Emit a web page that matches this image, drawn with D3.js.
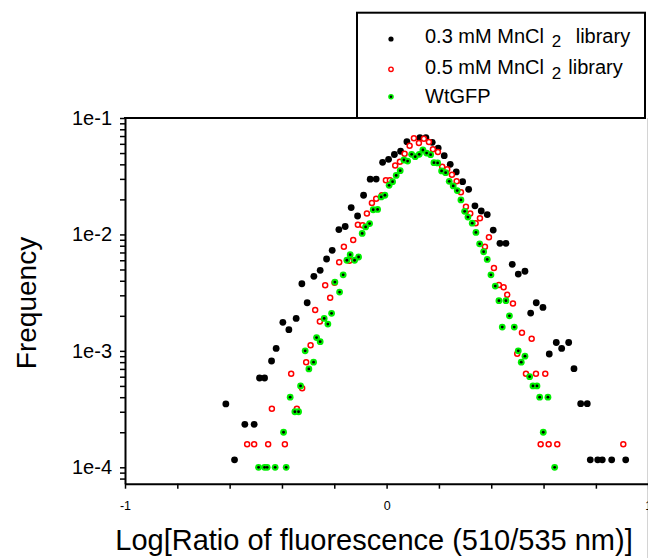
<!DOCTYPE html>
<html lang="en">
<head>
<meta charset="UTF-8">
<title>Frequency of fluorescence ratio</title>
<script src="https://d3js.org/d3.v7.min.js"></script>
<style>
  body { margin: 0; background: #fff; }
  svg text { font-family: "Liberation Sans", Arial, sans-serif; fill: #000; }
</style>
</head>
<body>
<div id="chart"></div>
<script>
// tick values
const xTicks = [-1, -0.8, -0.6, -0.4, -0.2, 0, 0.2, 0.4, 0.6, 0.8, 1];
const xTickLabels = ["-1", "", "", "", "", "0", "", "", "", "", "1"];
const yMajorTicks = [1e-4, 1e-3, 1e-2, 1e-1];
const yTickLabels = ["1e-4", "1e-3", "1e-2", "1e-1"];

// 0.3 mM MnCl2 library
const mn03X = [-0.6145, -0.5813, -0.5419, -0.5063, -0.4857, -0.4665, -0.4398, -0.4222, -0.3966, -0.3736,
  -0.3457, -0.3239, -0.3036, -0.278, -0.2539, -0.2294, -0.208, -0.1824, -0.1583, -0.1354,
  -0.1109, -0.088, -0.0627, -0.0398, -0.0153, 0.0076, 0.0298, 0.0535, 0.0776, 0.1273,
  0.1503, 0.1744, 0.1973, 0.2203, 0.2432, 0.2662, 0.2906, 0.3136, 0.3377, 0.3618,
  0.3847, 0.4076, 0.4333, 0.4562, 0.4803, 0.5033, 0.5289, 0.5507, 0.5721, 0.5977,
  0.6218, 0.6486, 0.6692, 0.696, 0.7163, 0.7419, 0.7671, 0.7786, 0.8069, 0.8245,
  0.8604, 0.914];
const mn03Y = [3.5e-4, 1.16e-4, 2.34e-4, 2.34e-4, 5.85e-4, 5.85e-4, 8.18e-4, 1.05e-3, 1.76e-3, 1.52e-3,
  1.9e-3, 3.77e-3, 2.59e-3, 4.37e-3, 4.92e-3, 6.15e-3, 7.31e-3, 0.011, 0.0117, 0.017,
  0.0144, 0.0217, 0.0298, 0.0299, 0.0416, 0.0442, 0.0486, 0.0518, 0.0626, 0.0677,
  0.0677, 0.0618, 0.0552, 0.0475, 0.04, 0.0344, 0.0284, 0.0244, 0.0176, 0.0159,
  0.0148, 0.0109, 8.39e-3, 8.39e-3, 5.54e-3, 4.57e-3, 4.83e-3, 2.11e-3, 2.59e-3, 2.36e-3,
  9.4e-4, 1.18e-3, 1.05e-3, 1.18e-3, 7.03e-4, 3.52e-4, 3.52e-4, 1.16e-4, 1.16e-4, 1.16e-4,
  1.16e-4, 1.16e-4];

// 0.5 mM MnCl2 library
const mn05X = [-0.5331, -0.5063, -0.4528, -0.4386, -0.3889, -0.3648, -0.343, -0.3228, -0.3075, -0.2906,
  -0.273, -0.2551, -0.2348, -0.2157, -0.1989, -0.1813, -0.1633, -0.1423, -0.1277, -0.1098,
  -0.0918, -0.0753, -0.0562, -0.0398, -0.018, -0.0027, 0.0126, 0.0329, 0.0509, 0.0688,
  0.088, 0.1044, 0.1235, 0.1426, 0.1618, 0.1771, 0.1962, 0.2126, 0.2317, 0.2497,
  0.2677, 0.2841, 0.3033, 0.3197, 0.3403, 0.3568, 0.3759, 0.3912, 0.4103, 0.4294,
  0.4474, 0.4612, 0.483, 0.4994, 0.5174, 0.5327, 0.5545, 0.5709, 0.5889, 0.6065,
  0.6195, 0.6524, 0.9048];
const mn05Y = [1.58e-4, 1.58e-4, 1.58e-4, 3.19e-4, 1.58e-4, 6.37e-4, 3.19e-4, 4.77e-4, 7.97e-4, 1.12e-3,
  2.24e-3, 1.79e-3, 3.66e-3, 2.86e-3, 3.85e-3, 5.76e-3, 7.85e-3, 5.95e-3, 8.96e-3, 0.0121,
  0.012, 0.0151, 0.0186, 0.0203, 0.0217, 0.0292, 0.0292, 0.0391, 0.0421, 0.0494,
  0.0578, 0.0669, 0.061, 0.0664, 0.0622, 0.0538, 0.0511, 0.0382, 0.0363, 0.0326,
  0.0286, 0.023, 0.0173, 0.0151, 0.0125, 0.0138, 7.85e-3, 9.45e-3, 5.15e-3, 3.68e-3,
  3.51e-3, 3.04e-3, 2.55e-3, 9.45e-4, 1.43e-3, 6.37e-4, 1.27e-3, 6.37e-4, 1.58e-4, 6.37e-4,
  1.58e-4, 1.58e-4, 1.58e-4];

// WtGFP
const wtX = [-0.4895, -0.4665, -0.4566, -0.426, -0.3939, -0.3839, -0.3686, -0.3507, -0.3365, -0.3289,
  -0.3113, -0.2971, -0.2792, -0.2677, -0.2539, -0.2386, -0.2245, -0.2103, -0.1977, -0.1797,
  -0.166, -0.1518, -0.1392, -0.1224, -0.1071, -0.0933, -0.0803, -0.065, -0.0512, -0.0344,
  -0.0207, -0.0065, 0.0096, 0.0229, 0.0367, 0.052, 0.0662, 0.0803, 0.0956, 0.1094,
  0.1247, 0.1388, 0.153, 0.1683, 0.1809, 0.195, 0.2103, 0.2256, 0.2394, 0.2547,
  0.27, 0.2841, 0.2983, 0.3109, 0.3273, 0.3415, 0.3556, 0.3709, 0.3847, 0.3989,
  0.4153, 0.4294, 0.4421, 0.4562, 0.4696, 0.488, 0.5033, 0.5147, 0.5289, 0.5468,
  0.5595, 0.5748, 0.5851, 0.5989, 0.6168, 0.6424];
const wtY = [0.0001, 0.0001, 0.0001, 0.0001, 0.0002, 0.0001, 0.0004, 0.0003, 0.0003, 0.0005,
  0.0010, 0.0007, 0.0008, 0.0013, 0.0012, 0.0019, 0.0017, 0.0021, 0.0039, 0.0032,
  0.0045, 0.0060, 0.0067, 0.0060, 0.0064, 0.0102, 0.0116, 0.0124, 0.0163, 0.0164,
  0.0210, 0.0217, 0.0264, 0.0284, 0.0321, 0.0353, 0.0436, 0.0427, 0.0488, 0.0465,
  0.0488, 0.0531, 0.0500, 0.0484, 0.0413, 0.0411, 0.0351, 0.0339, 0.0286, 0.0261,
  0.0238, 0.0198, 0.0158, 0.0141, 0.0125, 0.0104, 0.0083, 0.0071, 0.0061, 0.0045,
  0.0036, 0.0027, 0.0016, 0.0027, 0.0020, 0.0016, 0.0010, 0.0008, 0.0009, 0.0006,
  0.0005, 0.0005, 0.0004, 0.0002, 0.0004, 0.0001];

const legendNames = ["0.3 mM MnCl", "0.5 mM MnCl", "WtGFP"];
const legendSubs = ["2", "2", ""];
const legendTails = ["library", "library", ""];

const W = 648, H = 558;
const font = '"Liberation Sans", Arial, sans-serif';

const svg = d3.select("#chart").append("svg")
  .attr("width", W).attr("height", H);

const x = d3.scaleLinear().domain([-1, 1]).range([125, 648.2]);
const y = d3.scaleLog().domain([7.23e-5, 0.1]).range([483.7, 118]);

// minor ticks for the log axis
const yTicks = [];
[1e-5, 1e-4, 1e-3, 1e-2].forEach(d => {
  for (let k = 1; k <= 9; k++) {
    const v = d * k;
    if (v >= 7.23e-5 && v <= 0.1001) yTicks.push(v);
  }
});
yTicks.push(0.1);

// light edge line at the right
svg.append("line")
  .attr("x1", 647.5).attr("x2", 647.5).attr("y1", 118).attr("y2", H)
  .attr("stroke", "#d4d4d4").attr("stroke-width", 1);

// top frame line
svg.append("line")
  .attr("x1", 124).attr("x2", 645).attr("y1", 118).attr("y2", 118)
  .attr("stroke", "#000").attr("stroke-width", 2);

const xAxis = svg.append("g")
  .attr("transform", "translate(0,483.7)")
  .call(d3.axisBottom(x).tickValues(xTicks).tickSize(5).tickSizeOuter(0).tickPadding(12)
    .tickFormat((d, i) => xTickLabels[i]));
xAxis.select(".domain").attr("stroke-width", 2);
xAxis.selectAll(".tick line").attr("stroke-width", 1.5);
xAxis.selectAll("text").style("font-family", font).style("font-size", "12.5px");

const yAxis = svg.append("g")
  .attr("transform", "translate(125,0)")
  .call(d3.axisLeft(y).tickValues(yTicks).tickSize(5).tickSizeOuter(0).tickPadding(8)
    .tickFormat(d => {
      const i = yMajorTicks.findIndex(m => Math.abs(m - d) / m < 1e-6);
      return i >= 0 ? yTickLabels[i] : "";
    }));
yAxis.select(".domain").attr("stroke-width", 2);
yAxis.selectAll(".tick line").attr("stroke-width", 1.5);
yAxis.selectAll("text").style("font-family", font).style("font-size", "20px");

// axis titles
svg.append("text")
  .attr("x", 374).attr("y", 550)
  .attr("text-anchor", "middle")
  .style("font-size", "29px")
  .text("Log[Ratio of fluorescence (510/535 nm)]");

svg.append("text")
  .attr("transform", "translate(36,303) rotate(-90)")
  .attr("text-anchor", "middle")
  .style("font-size", "28px")
  .text("Frequency");

// points
const pts = (xs, ys) => xs.map((v, i) => ({ x: v, y: ys[i] }));

svg.append("g").selectAll("circle")
  .data(pts(mn03X, mn03Y))
  .join("circle")
  .attr("cx", d => x(d.x)).attr("cy", d => y(d.y))
  .attr("r", 3.4).attr("fill", "#000");

svg.append("g").selectAll("circle")
  .data(pts(mn05X, mn05Y))
  .join("circle")
  .attr("cx", d => x(d.x)).attr("cy", d => y(d.y))
  .attr("r", 2.5).attr("fill", "#fff")
  .attr("stroke", "#ff0000").attr("stroke-width", 1.5);

const wt = svg.append("g");
wt.selectAll("circle.o")
  .data(pts(wtX, wtY))
  .join("circle").attr("class", "o")
  .attr("cx", d => x(d.x)).attr("cy", d => y(d.y))
  .attr("r", 3.4).attr("fill", "#00ee00");
wt.selectAll("circle.c")
  .data(pts(wtX, wtY))
  .join("circle").attr("class", "c")
  .attr("cx", d => x(d.x)).attr("cy", d => y(d.y))
  .attr("r", 1.4).attr("fill", "#000");

// legend
const lg = svg.append("g");
lg.append("rect")
  .attr("x", 357).attr("y", 12.7).attr("width", 288).attr("height", 105.3)
  .attr("fill", "#fff").attr("stroke", "#000").attr("stroke-width", 2);

const rowY = [39, 69.3, 96.7];
const baseY = [42.7, 74, 103.3];

lg.append("circle").attr("cx", 391).attr("cy", rowY[0]).attr("r", 2.6).attr("fill", "#000");
lg.append("circle").attr("cx", 391).attr("cy", rowY[1]).attr("r", 2.2)
  .attr("fill", "#fff").attr("stroke", "#ff0000").attr("stroke-width", 1.4);
lg.append("circle").attr("cx", 391).attr("cy", rowY[2]).attr("r", 2.8).attr("fill", "#00ee00");
lg.append("circle").attr("cx", 391).attr("cy", rowY[2]).attr("r", 1.2).attr("fill", "#000");

const subX = [551.7, 551.7];
const tailX = [575.7, 568.3];
legendNames.forEach((name, i) => {
  lg.append("text").attr("x", 425).attr("y", baseY[i])
    .style("font-size", "20px").text(name);
  if (legendSubs[i]) {
    lg.append("text").attr("x", subX[i]).attr("y", baseY[i] + 4.5)
      .style("font-size", "17px").text(legendSubs[i]);
    lg.append("text").attr("x", tailX[i]).attr("y", baseY[i])
      .style("font-size", "20px").text(legendTails[i]);
  }
});
</script>
</body>
</html>
